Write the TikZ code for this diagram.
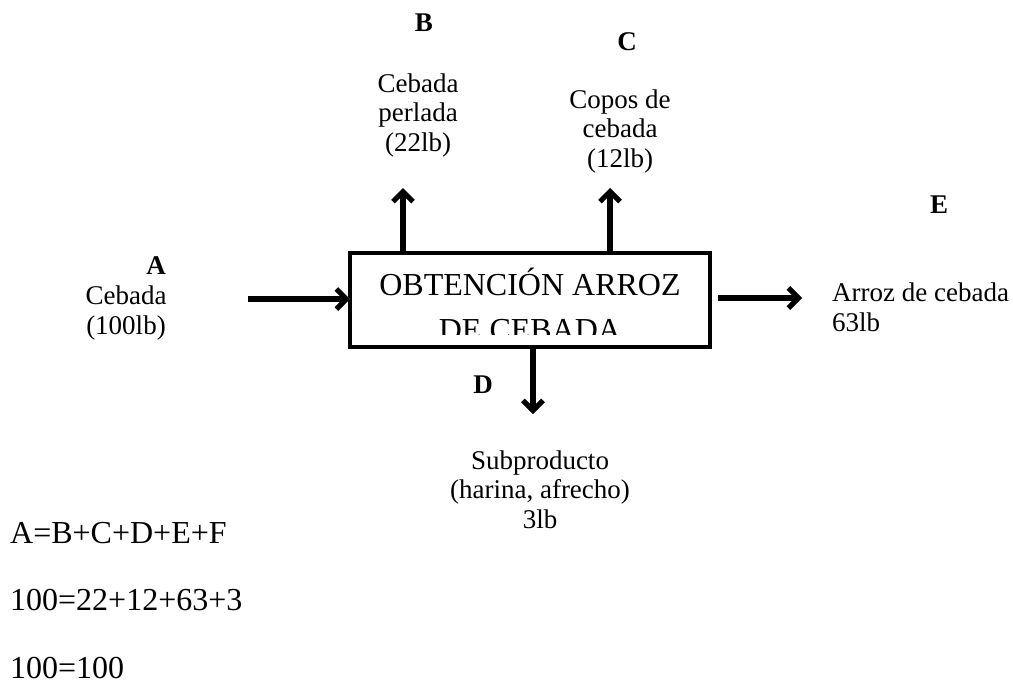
\documentclass[tikz,border=0pt]{standalone}
\usepackage{fontspec}
\setmainfont{Liberation Serif}
\usetikzlibrary{arrows.meta}
\begin{document}
\begin{tikzpicture}[x=1pt,y=-1pt,
  lbl/.style={font=\fontsize{27}{29.5}\selectfont, inner sep=0pt, align=center, anchor=base},
  eq/.style={font=\fontsize{32}{34}\selectfont, inner sep=0pt, anchor=base west},
  letter/.style={font=\fontsize{27}{29}\selectfont\bfseries, inner sep=0pt, anchor=base},
  boxtext/.style={font=\fontsize{32}{36}\selectfont, inner sep=0pt, anchor=base},
  flow/.style={line width=5.5pt, -{Straight Barb[length=10pt,width=20pt,line width=5pt]}},
  flowshadow/.style={flow, draw=gray!55},
  ]
\path[use as bounding box] (0,0) rectangle (1013,686);

% process box
\node[draw, line width=4.5pt, minimum width=360pt, minimum height=94pt, inner sep=0pt, outer sep=0pt] (box) at (530,300) {};
\begin{scope}
  \clip (352,256) rectangle (708,334);
  \node[boxtext] (t1) at (530,295) {OBTENCIÓN ARROZ};
  \node[boxtext] (t2) at (530,340) {DE CEBADA};
\end{scope}

% letters
\node[letter] (lB) at (424,31) {B};
\node[letter] (lC) at (627,50) {C};
\node[letter] (lE) at (939,213) {E};
\node[letter] (lA) at (156,274) {A};
\node[letter] (lD) at (483,393) {D};

% labels
\node[lbl] (nB) at (418,151) {Cebada\\perlada\\(22lb)};
\node[lbl] (nC) at (620,167) {Copos de\\cebada\\(12lb)};
\node[lbl] (nA) at (126,334) {Cebada\\(100lb)};
\node[lbl, align=left, anchor=base west] (nE) at (832,331) {Arroz de cebada\\63lb};
\node[lbl] (nD) at (540,528) {Subproducto\\(harina, afrecho)\\3lb};

% equations
\node[eq] (e1) at (10,543) {A=B+C+D+E+F};
\node[eq] (e2) at (10,610) {100=22+12+63+3};
\node[eq] (e3) at (10,678) {100=100};

% connector ends
\coordinate (inS) at (248,299);
\coordinate (outS) at (718,298);
\coordinate (outE) at (802,298);
\coordinate (bE) at (403,188);
\coordinate (cE) at (610,188);
\coordinate (dE) at (533,414);

% shadows
\begin{scope}[xshift=2.5pt, yshift=-3.5pt]
  \draw[flowshadow] (inS) -- (inS -| box.west);
  \draw[flowshadow] (outS) -- (outE);
  \draw[flowshadow] (bE |- box.north) -- (bE);
  \draw[flowshadow] (cE |- box.north) -- (cE);
  \draw[flowshadow] (dE |- box.south) -- (dE);
\end{scope}
% arrows
\draw[flow] (inS) -- (inS -| box.west);
\draw[flow] (outS) -- (outE);
\draw[flow] (bE |- box.north) -- (bE);
\draw[flow] (cE |- box.north) -- (cE);
\draw[flow] (dE |- box.south) -- (dE);
\end{tikzpicture}
\end{document}
